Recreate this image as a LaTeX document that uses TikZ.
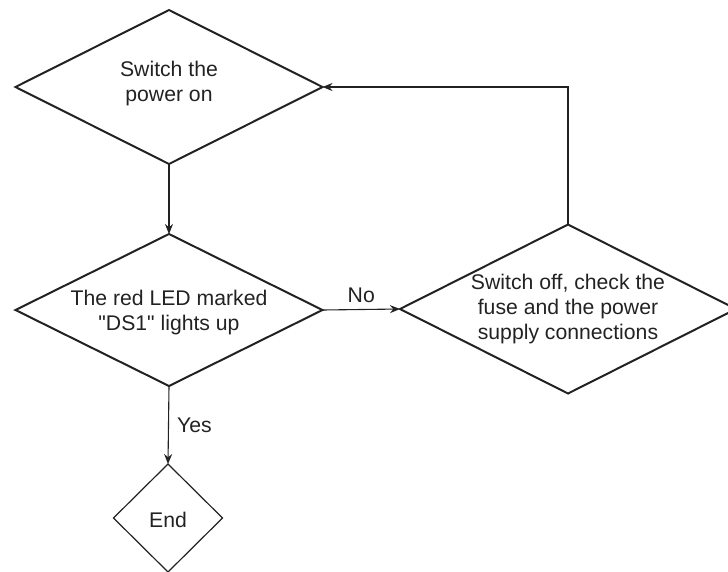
\documentclass[tikz,border=0pt]{standalone}
\usepackage{fontspec}
\setmainfont{Liberation Sans}[Ligatures=TeXOff]
\usetikzlibrary{shapes.geometric,arrows.meta}
\definecolor{ink}{HTML}{222222}
\begin{document}
\begin{tikzpicture}[x=1pt,y=-1pt,
  dia/.style={diamond,draw=ink,line width=2pt,inner sep=0pt,outer sep=0pt,aspect=2},
  lbl/.style={text=ink,font=\fontsize{21.2}{25}\selectfont,align=center,inner sep=0pt},
  conn/.style={draw=ink,line width=1.1pt,-{Stealth[length=10pt,width=8pt]}}
]
\useasboundingbox (0,0) rectangle (728,571);
\node[dia,minimum width=307pt,minimum height=154pt] (d1) at (169,87) {};
\node[lbl] (t1) at (169,84) {Switch the\\power on};
\node[dia,minimum width=307pt,minimum height=152pt] (d2) at (169,310) {};
\node[lbl] (t2) at (169,313) {The red LED marked\\"DS1" lights up};
\node[dia,minimum width=336pt,minimum height=169pt] (d3) at (568,309) {};
\node[lbl] (t3) at (568,309) {Switch off, check the\\fuse and the power\\supply connections};
\node[dia,line width=1.2pt,minimum width=109pt,minimum height=108pt] (d4) at (168,518) {};
\node[lbl] (t4) at (168,520) {End};
\draw[conn] (d1.south) -- (d2.north);
\draw[conn] (d2.east) -- node[lbl,above=6pt] (no) {No} (d3.west);
\draw[conn] (d2.south) -- node[lbl,right=8pt] (yes) {Yes} (d4.north);
\draw[conn] (d3.north) |- (d1.east);
\end{tikzpicture}
\end{document}
